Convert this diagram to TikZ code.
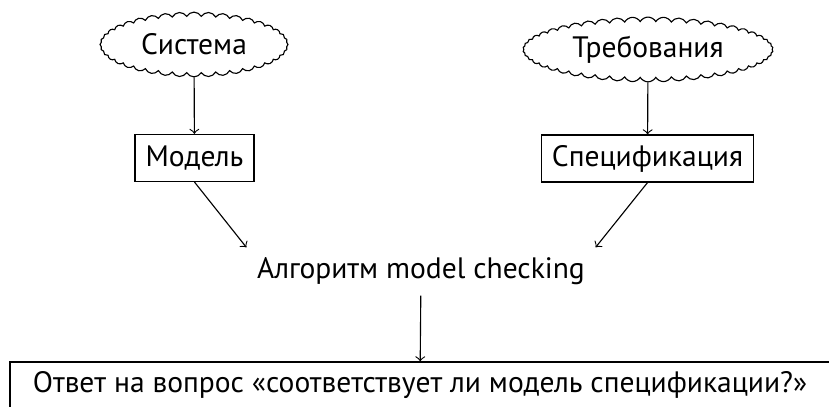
\documentclass[tikz,border=0pt]{standalone}
\usepackage{fontspec}
\setmainfont{PT Sans}
\usetikzlibrary{shapes.symbols}
\tikzset{
  cloudy/.style={cloud, draw, cloud ignores aspect, cloud puffs=40, cloud puff arc=120, inner sep=0pt},
  boxed/.style={draw, rectangle, minimum height=0.5875cm, inner sep=0pt},
}
\begin{document}
\begin{tikzpicture}[font=\fontsize{10.5}{12.5}\selectfont]
  \useasboundingbox (0,0) rectangle (10.3625,5.0875);
  \draw
    (2.425,4.531) node[cloudy, minimum width=2.35cm, minimum height=0.81cm] (sys){Система}
    (8.1,4.469) node[cloudy, cloud puffs=50, minimum width=3.125cm, minimum height=0.81cm] (req){Требования}
    (2.431,3.1125) node[boxed, minimum width=1.4875cm] (model){Модель}
    (8.094,3.106) node[boxed, minimum width=2.64cm] (spec){Спецификация}
    (5.2625,1.694) node[minimum width=4.35cm, minimum height=0.5875cm, inner sep=0pt] (algo){Алгоритм model checking}
    (5.25,0.269) node[boxed, minimum width=10.25cm] (answer){Ответ на вопрос «соответствует ли модель спецификации?»};
  \begin{scope}[->]
    \draw (sys) to (model);
    \draw (req) to (spec);
    \draw (model.south) to (algo.north west);
    \draw (spec.south) to (algo.north east);
    \draw (algo) to (answer);
  \end{scope}
\end{tikzpicture}
\end{document}
